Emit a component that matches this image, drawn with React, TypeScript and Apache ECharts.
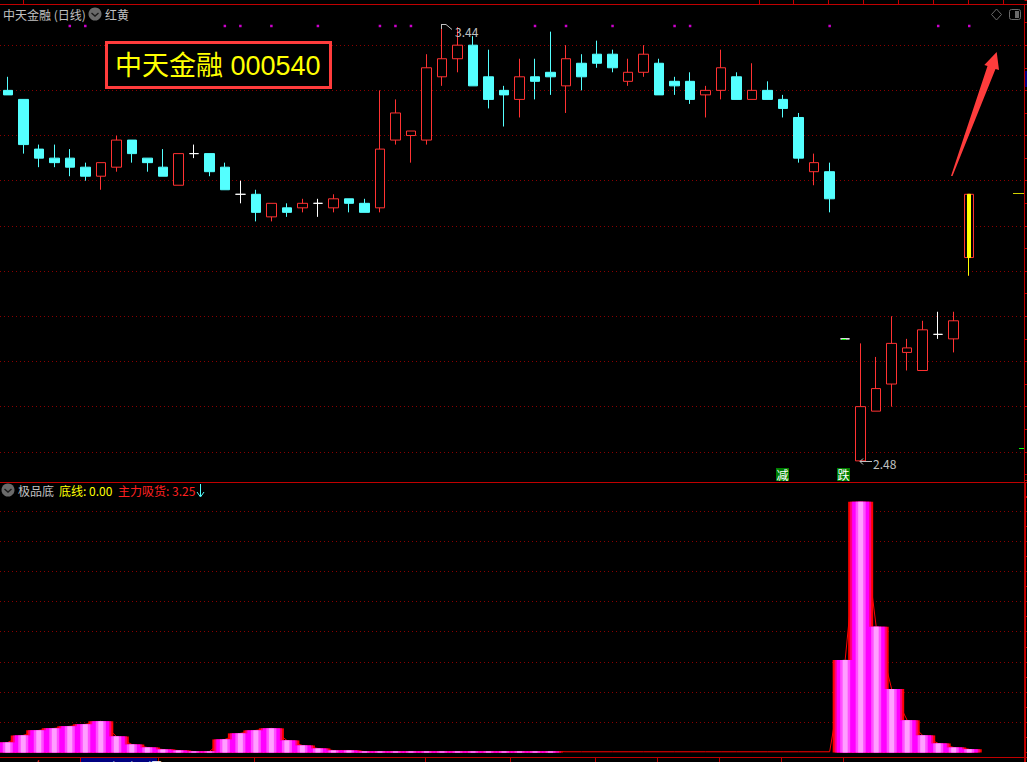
import React, { useEffect, useRef } from "react";
import * as echarts from "echarts";

const opens = [3.30,3.28,3.17,3.15,3.15,3.13,3.11,3.13,3.19,3.15,3.13,3.09,3.16,3.16,3.13,3.07,3.07,3.02,3.04,3.04,3.05,3.04,3.06,3.05,3.04,3.19,3.20,3.19,3.33,3.37,3.40,3.33,3.30,3.28,3.33,3.34,3.31,3.36,3.38,3.38,3.32,3.34,3.36,3.32,3.32,3.29,3.30,3.33,3.28,3.30,3.28,3.24,3.12,3.12,2.75,2.48,2.59,2.65,2.72,2.68,2.76,2.75,2.93];
const closes = [3.29,3.18,3.15,3.14,3.13,3.11,3.14,3.19,3.16,3.14,3.11,3.16,3.16,3.12,3.08,3.07,3.03,3.05,3.03,3.05,3.05,3.06,3.05,3.03,3.17,3.25,3.21,3.35,3.37,3.40,3.31,3.28,3.29,3.33,3.32,3.33,3.37,3.33,3.36,3.35,3.34,3.38,3.29,3.31,3.28,3.30,3.35,3.28,3.30,3.28,3.26,3.15,3.14,3.06,2.75,2.60,2.64,2.74,2.73,2.77,2.76,2.79,3.07];
const lows = [3.29,3.16,3.13,3.13,3.11,3.10,3.08,3.12,3.14,3.12,3.11,3.09,3.15,3.11,3.08,3.05,3.01,3.01,3.02,3.03,3.02,3.03,3.03,3.03,3.03,3.18,3.14,3.18,3.31,3.34,3.31,3.26,3.22,3.24,3.28,3.29,3.25,3.30,3.35,3.34,3.31,3.33,3.29,3.29,3.27,3.24,3.28,3.28,3.28,3.28,3.24,3.14,3.09,3.03,2.75,2.48,2.59,2.60,2.68,2.68,2.75,2.72,2.89];
const highs = [3.33,3.28,3.18,3.18,3.17,3.14,3.14,3.20,3.19,3.15,3.17,3.16,3.18,3.16,3.14,3.10,3.08,3.05,3.05,3.06,3.06,3.07,3.06,3.06,3.30,3.28,3.21,3.38,3.44,3.44,3.42,3.39,3.31,3.37,3.37,3.43,3.40,3.38,3.41,3.39,3.37,3.40,3.37,3.33,3.34,3.31,3.39,3.34,3.36,3.32,3.29,3.25,3.16,3.14,2.75,2.74,2.71,2.80,2.75,2.79,2.81,2.81,3.07];
const signalDays = [4,5,14,15,17,20,24,25,26,34,36,39,43,44,53,60,62];
const signalLevel = 3.4425;
const highlightDay = 62;
const highlightCandle = [2.93, 3.07, 2.89, 3.07];
const accumBars = [10,17,22,24,26,28,31,16,8,5,3,2,1,1,13,19,22,24,12,7,4,2,2,1,1,1,1,1,1,1,1,1,1,1,1,1,0,0,0,0,0,0,0,0,0,0,0,0,0,0,0,0,0,0,92,249,125,63,32,17,9,5,3.25];
const accumLine = [10,17,22,24,26,28,31,16,8,5,3,2,1,1,13,19,22,24,12,7,4,2,2,1,1,1,1,1,1,1,1,1,1,1,1,1,0.7,0.7,0.7,0.7,0.7,0.7,0.7,0.7,0.7,0.7,0.7,0.7,0.7,0.7,0.7,0.7,0.7,0.7,92,249,125,63,32,17,9,5,3.25];
const categories = Array.from({ length: 66 }, (_, i) => String(i + 1));

const DARK_RED = "#c00000";
const GRID_RED = "#8a0000";
const CAND_RED = "#ff3232";
const CYAN = "#54ffff";
const GREY = "#c0c0c0";
const FONT = '"Noto Sans CJK SC", sans-serif';
const barLayers = [
  { width: 25, color: "#ff0000" },
  { width: 21, color: "#ff0080" },
  { width: 17, color: "#ff00ff" },
  { width: 10, color: "#ff50ff" },
  { width: 5, color: "#ff9fff" },
];

const line = (x1: number, y1: number, x2: number, y2: number, stroke: string, lineWidth = 1) => ({
  type: "line", shape: { x1, y1, x2, y2 }, style: { stroke, lineWidth }, z: 50, silent: true,
});
const text = (x: number, y: number, t: string, fill: string, size = 12, extra: any = {}) => ({
  type: "text", x, y, z: 60, silent: true,
  style: { text: t, fill, font: `${size}px ${FONT}`, textVerticalAlign: "middle", textBaseline: "middle", ...extra },
});
const chevronIcon = (cx: number, cy: number) => [
  { type: "circle", shape: { cx, cy, r: 6.5 }, style: { fill: "#6a6a6a" }, z: 60, silent: true },
  { type: "polyline", shape: { points: [[cx - 3.5, cy - 1], [cx, cy + 2], [cx + 3.5, cy - 1]] }, style: { stroke: "#1a1a1a", fill: "none", lineWidth: 1.4 }, z: 61, silent: true },
];

function buildGraphic() {
  const els: any[] = [];
  els.push(line(0, 4.5, 1027, 4.5, DARK_RED));
  els.push(line(0, 482.5, 1027, 482.5, DARK_RED));
  els.push(line(0, 757.5, 1027, 757.5, DARK_RED));
  els.push(line(1024.5, 4, 1024.5, 762, DARK_RED));
  els.push(line(1025.5, 482, 1025.5, 762, DARK_RED));
  [23, 759, 793, 828, 863, 898, 933, 968, 1003].forEach((x) => els.push(line(x + 0.5, 0, x + 0.5, 4, DARK_RED)));
  [80, 158, 254, 425, 510, 595, 657, 719, 781, 843].forEach((x) => els.push(line(x + 0.5, 758, x + 0.5, 762, DARK_RED)));

  els.push(text(3, 14, "中天金融 (日线)", GREY));
  els.push(...chevronIcon(95, 14));
  els.push(text(105, 14, "红黄", GREY));
  els.push({ type: "polygon", shape: { points: [[996.5, 9], [1001.5, 14.5], [996.5, 20], [991.5, 14.5]] }, style: { stroke: "#6a6a6a", fill: "none", lineWidth: 1 }, z: 60, silent: true });
  els.push({ type: "rect", shape: { x: 1009.5, y: 9.5, width: 11, height: 10, r: 2 }, style: { stroke: "#6a6a6a", fill: "none", lineWidth: 1 }, z: 60, silent: true });
  els.push({ type: "rect", shape: { x: 1015, y: 11, width: 4, height: 7 }, style: { fill: "#6a6a6a" }, z: 60, silent: true });

  els.push({ type: "rect", shape: { x: 106.5, y: 42.5, width: 224, height: 45 }, style: { stroke: "#ff3c3c", fill: "#000", lineWidth: 3 }, z: 55, silent: true });
  els.push({ type: "text", x: 115, y: 66, z: 60, silent: true, style: { text: "中天金融 000540", fill: "#ffff00", font: '27px "Liberation Sans", "Noto Sans CJK SC", sans-serif', textBaseline: "middle", textVerticalAlign: "middle" } });

  els.push({ type: "polygon", shape: { points: [[951, 176], [952.5, 176], [995.5, 69], [999, 70], [996.7, 52], [984.3, 65], [987.5, 66]] }, style: { fill: "#ff3c3c" }, z: 60, silent: true });

  els.push({ type: "polyline", shape: { points: [[441, 24.5], [446, 24.5], [452, 29.5]] }, style: { stroke: GREY, fill: "none", lineWidth: 1 }, z: 60, silent: true });
  els.push(line(441.5, 24, 441.5, 29, GREY));
  els.push(text(455, 31, "3.44", GREY, 12));
  els.push(line(860, 461.5, 872, 461.5, GREY));
  els.push({ type: "polyline", shape: { points: [[863, 458.5], [860, 461.5], [863, 464.5]] }, style: { stroke: GREY, fill: "none", lineWidth: 1 }, z: 60, silent: true });
  els.push(text(873, 463, "2.48", GREY, 12));
  els.push(line(842, 339.5, 846, 339.5, "#00ff00"));

  [[776, "减"], [837, "跌"]].forEach(([x, t]: any) => {
    els.push({ type: "rect", shape: { x, y: 468, width: 13, height: 13 }, style: { fill: "#008000" }, z: 58, silent: true });
    els.push(text(x + 0.5, 474.5, t, "#ffffff", 12));
  });

  els.push(line(1013, 193.5, 1024, 193.5, "#d0d000"));
  els.push(line(1019, 448.5, 1024, 448.5, "#00ff00"));
  els.push({ type: "rect", shape: { x: 1025, y: 71, width: 2, height: 16 }, style: { fill: "#000080" }, z: 61, silent: true });

  els.push(...chevronIcon(8, 490));
  els.push(text(18, 490, "极品底", GREY));
  els.push(text(59, 490, "底线: 0.00", "#ffff00"));
  els.push(text(118, 490, "主力吸货: 3.25", "#ff2020"));
  els.push(line(200.5, 484, 200.5, 496, CYAN));
  els.push({ type: "polyline", shape: { points: [[197, 492], [200.5, 497], [204, 492]] }, style: { stroke: CYAN, fill: "none", lineWidth: 1 }, z: 60, silent: true });

  els.push({ type: "rect", shape: { x: 81, y: 758, width: 76, height: 4 }, style: { fill: "#000080" }, z: 58, silent: true });
  els.push(text(83, 765, "2018/11/15/五", "#ffffff", 12));
  els.push(text(8, 765, "2018年", "#ff3232", 12));
  els.push(text(258, 765, "12", "#ff3232", 12));
  return els;
}

export default function App() {
  const ref = useRef<HTMLDivElement>(null);
  useEffect(() => {
    document.body.style.margin = "0";
    document.body.style.background = "#000";
    const chart = echarts.init(ref.current!, undefined, { renderer: "svg" });
    const candleData = opens.map((o, i) => [o, closes[i], lows[i], highs[i]]);
    const highlightData = categories.map((_, i) => (i === highlightDay ? highlightCandle : "-"));
    const hiddenX = { axisLine: { show: false }, axisTick: { show: false }, axisLabel: { show: false }, splitLine: { show: false } };
    const rightAxis = (min: number, max: number, interval: number, gridIndex: number) => ({
      type: "value", gridIndex, min, max, interval, position: "right", offset: 1,
      axisLine: { show: false },
      axisLabel: { show: false },
      axisTick: { show: true, inside: false, length: 3, lineStyle: { color: DARK_RED } },
      minorTick: { show: true, splitNumber: 2, length: 3, lineStyle: { color: DARK_RED } },
      splitLine: { show: true, showMinLine: false, showMaxLine: false, lineStyle: { color: GRID_RED, width: 1, type: [1, 3] } },
    });
    chart.setOption({
      animation: false,
      backgroundColor: "#000",
      tooltip: { show: false },
      grid: [
        { left: -1, width: 1024.5, top: -2.84, height: 499.84 },
        { left: -1, width: 1024.5, top: 480.7, height: 271.8 },
      ],
      xAxis: [
        { type: "category", gridIndex: 0, data: categories, ...hiddenX },
        { type: "category", gridIndex: 1, data: categories, ...hiddenX },
        ...barLayers.map(() => ({ type: "category", gridIndex: 1, data: categories, ...hiddenX })),
      ],
      yAxis: [rightAxis(2.4, 3.5, 0.1, 0), rightAxis(0, 270, 30, 1)],
      series: [
        {
          type: "candlestick", name: "K", xAxisIndex: 0, yAxisIndex: 0, barWidth: 10, z: 3, data: candleData,
          itemStyle: { color: "#000", color0: CYAN, borderColor: CAND_RED, borderColor0: CYAN, borderColorDoji: "#ffffff", borderWidth: 1 },
        },
        {
          type: "candlestick", name: "红黄", xAxisIndex: 0, yAxisIndex: 0, barWidth: 4, z: 4, data: highlightData,
          itemStyle: { color: "#ffff00", color0: "#ffff00", borderColor: "#ffff00", borderColor0: "#ffff00", borderWidth: 1 },
        },
        {
          type: "scatter", name: "信号", xAxisIndex: 0, yAxisIndex: 0, symbol: "rect", symbolSize: 2.5, z: 5,
          data: signalDays.map((d) => [d, signalLevel]), itemStyle: { color: "#ff00ff" },
        },
        {
          type: "line", name: "主力吸货线", xAxisIndex: 1, yAxisIndex: 1, data: accumLine, showSymbol: false, z: 2,
          lineStyle: { color: "#ff0000", width: 1 },
        },
        ...barLayers.map((layer, i) => ({
          type: "bar", name: "主力吸货" + i, xAxisIndex: 2 + i, yAxisIndex: 1, data: accumBars, barWidth: layer.width, z: 3 + i,
          itemStyle: { color: layer.color },
        })),
      ],
      graphic: { elements: buildGraphic() },
    });
    return () => chart.dispose();
  }, []);
  return <div ref={ref} style={{ position: "absolute", left: 0, top: 0, width: 1027, height: 762, overflow: "hidden" }} />;
}
